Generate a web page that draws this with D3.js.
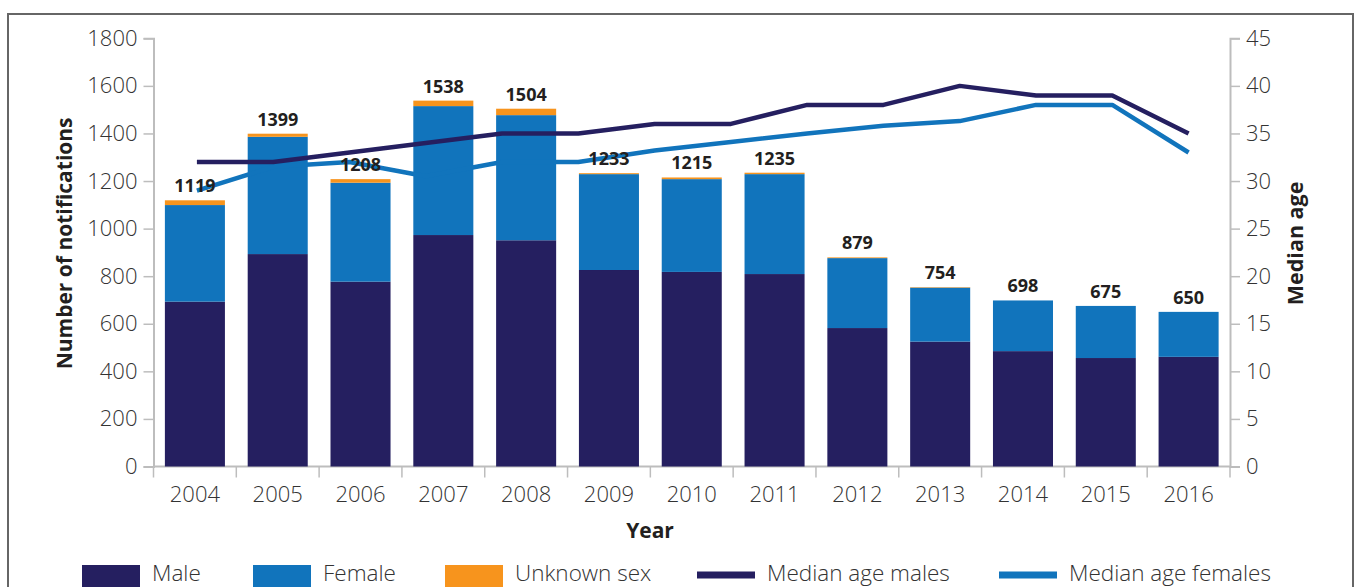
<!DOCTYPE html>
<html><head><meta charset="utf-8">
<script src="https://cdn.jsdelivr.net/npm/d3@7/dist/d3.min.js"></script>
<style>
html,body{margin:0;padding:0;background:#fff;}
svg{display:block;font-family:"Open Sans",sans-serif;}
</style></head>
<body><svg id="c" width="1358" height="587"></svg>
<script>
const years = ["2004","2005","2006","2007","2008","2009","2010","2011","2012","2013","2014","2015","2016"];
const male    = [693, 893, 777, 973, 951, 826, 818, 809, 582, 525, 485, 456, 461];
const female  = [406, 493, 416, 542, 526, 403, 390, 420, 294, 227, 213, 219, 189];
const unknown = [20, 13, 15, 23, 27, 4, 7, 6, 3, 2, 0, 0, 0];
const medianAgeMales   = [32, 32, 33, 34, 35, 35, 36, 36, 38, 38, 40, 39, 39, 35];
const medianAgeFemales = [29, 31.5, 32, 30.5, 32, 32, 33.2, 34.1, 35, 35.8, 36.3, 38, 38, 33];
const leftTicks  = [0, 200, 400, 600, 800, 1000, 1200, 1400, 1600, 1800];
const rightTicks = [0, 5, 10, 15, 20, 25, 30, 35, 40, 45];
const seriesNames = ["Male", "Female", "Unknown sex"];
const lineNames = ["Median age males", "Median age females"];

const C = {male:"#251F60", female:"#1174BC", unknown:"#F7941D", axis:"#BDBDBD", text:"#333333", dark:"#231F20"};

const svg = d3.select("#c");
const L = 153.5, R = 1230, T = 38.3, B = 466.5;

// frame
svg.append("rect").attr("x",8).attr("y",14).attr("width",1345).attr("height",600)
  .attr("fill","none").attr("stroke","#666").attr("stroke-width",2);

const x = d3.scaleBand().domain(years).range([L, R]).paddingInner(0.275).paddingOuter(0.1375);
const y = d3.scaleLinear().domain([0, 1800]).range([B, T]);
const y2 = d3.scaleLinear().domain([0, 45]).range([B, T]);
const xl = d3.scalePoint().domain(d3.range(medianAgeMales.length))
  .range([x(years[0]) + x.bandwidth()/2 + 2, x(years[years.length-1]) + x.bandwidth()/2]);

// axes
const gL = svg.append("g").attr("transform",`translate(${L},0)`)
  .call(d3.axisLeft(y).tickValues(leftTicks).tickFormat(d3.format("d")).tickSize(10).tickPadding(6));
const gR = svg.append("g").attr("transform",`translate(${R},0)`)
  .call(d3.axisRight(y2).tickValues(rightTicks).tickFormat(d3.format("d")).tickSize(10).tickPadding(6));
const gX = svg.append("g").attr("transform",`translate(0,${B})`)
  .call(d3.axisBottom(x).tickSize(0).tickPadding(20));
[gL,gR,gX].forEach(g=>{
  g.select(".domain").attr("stroke",C.axis).attr("stroke-width",2);
  g.selectAll(".tick line").attr("stroke",C.axis).attr("stroke-width",1.5);
  g.selectAll("text").attr("fill",C.text).style("font-family","'Open Sans',sans-serif")
    .style("font-weight",300).style("font-size","22px");
});
gX.select(".domain").attr("d",`M${L},0H${R}`);
// x boundary ticks
const bounds = years.map(d=>x(d) - x.step()*x.paddingInner()/2).concat([R]);
gX.selectAll(".bt").data(bounds).enter().append("line")
  .attr("x1",d=>d).attr("x2",d=>d).attr("y1",0).attr("y2",11)
  .attr("stroke",C.axis).attr("stroke-width",1.5);
gX.selectAll(".tick text").attr("dy","0.72em");

// stacked bars
const rows = years.map((yr,i)=>({year:yr, Male:male[i], Female:female[i], "Unknown sex":unknown[i]}));
const stack = d3.stack().keys(seriesNames)(rows);
const cols = [C.male, C.female, C.unknown];
stack.forEach((s,k)=>{
  svg.append("g").selectAll("rect").data(s).enter().append("rect")
    .attr("x",d=>x(d.data.year)).attr("width",x.bandwidth())
    .attr("y",d=>y(d[1])).attr("height",d=>y(d[0])-y(d[1]))
    .attr("fill",cols[k]);
});

// lines
const lineGen = d3.line().x((d,i)=>xl(i)).y(d=>y2(d));
svg.append("path").attr("d",lineGen(medianAgeFemales)).attr("fill","none")
  .attr("stroke",C.female).attr("stroke-width",4.5).attr("stroke-linejoin","round");
svg.append("path").attr("d",lineGen(medianAgeMales)).attr("fill","none")
  .attr("stroke",C.male).attr("stroke-width",4.5).attr("stroke-linejoin","round");

// total labels
svg.append("g").selectAll("text").data(rows).enter().append("text")
  .attr("x",d=>x(d.year)+x.bandwidth()/2)
  .attr("y",d=>y(d.Male+d.Female+d["Unknown sex"]) - 8)
  .attr("text-anchor","middle").attr("fill",C.dark)
  .style("font-weight",700).style("font-size","18px")
  .text(d=>d.Male+d.Female+d["Unknown sex"]);

// axis titles
svg.append("text").attr("transform",`translate(72,${(T+B)/2 - 9}) rotate(-90)`)
  .attr("text-anchor","middle").attr("fill",C.dark)
  .style("font-weight",700).style("font-size","21px").text("Number of notifications");
svg.append("text").attr("transform",`translate(1303,${(T+B)/2 - 9}) rotate(-90)`)
  .attr("text-anchor","middle").attr("fill",C.dark)
  .style("font-weight",700).style("font-size","21.5px").text("Median age");
svg.append("text").attr("x",650).attr("y",538).attr("text-anchor","middle").attr("fill",C.dark)
  .style("font-weight",700).style("font-size","21px").text("Year");

// legend
const legItems = [
  {name:seriesNames[0], color:C.male, type:"rect", x:82},
  {name:seriesNames[1], color:C.female, type:"rect", x:253},
  {name:seriesNames[2], color:C.unknown, type:"rect", x:445},
  {name:lineNames[0], color:C.male, type:"line", x:697},
  {name:lineNames[1], color:C.female, type:"line", x:999}
];
const lg = svg.append("g");
legItems.forEach(it=>{
  if(it.type==="rect"){
    lg.append("rect").attr("x",it.x).attr("y",565).attr("width",58).attr("height",24).attr("fill",it.color);
  } else {
    lg.append("rect").attr("x",it.x).attr("y",571.5).attr("width",58).attr("height",7).attr("fill",it.color);
  }
  lg.append("text").attr("x",it.x+70).attr("y",581).attr("fill",C.text)
    .style("font-weight",300).style("font-size","22.5px").text(it.name);
});
</script></body></html>
